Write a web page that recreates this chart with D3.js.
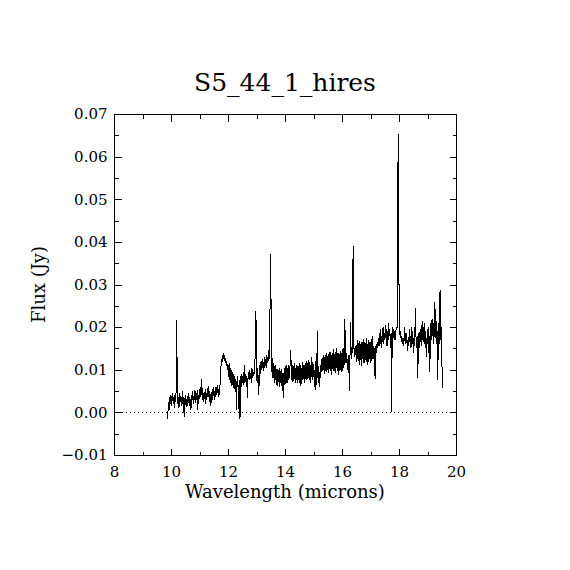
<!DOCTYPE html>
<html>
<head>
<meta charset="utf-8">
<script src="https://cdn.jsdelivr.net/npm/d3@7"></script>
<style>
  body { margin: 0; background: #fff; }
  text { font-family: "DejaVu Serif", serif; fill: #000; }
  .axis path, .axis line { stroke: #000; shape-rendering: crispEdges; }
</style>
</head>
<body>
<div id="chart"></div>
<script>
const title = "S5_44_1_hires";
const xLabel = "Wavelength (microns)";
const yLabel = "Flux (Jy)";
const xTicks = [8, 10, 12, 14, 16, 18, 20];
const xMinor = [9, 11, 13, 15, 17, 19];
const yTicks = [-0.01, 0, 0.01, 0.02, 0.03, 0.04, 0.05, 0.06, 0.07];
const yMinor = [-0.005, 0.005, 0.015, 0.025, 0.035, 0.045, 0.055, 0.065];

// wavelength (microns)
const wave = [
  9.88, 9.90, 9.92, 9.94, 9.96, 9.98, 10.00, 10.02, 10.04, 10.06, 10.08, 10.10, 10.12, 10.14, 10.16, 10.18,
  10.20, 10.22, 10.24, 10.26, 10.28, 10.30, 10.32, 10.34, 10.36, 10.38, 10.40, 10.42, 10.44, 10.46, 10.48,
  10.50, 10.52, 10.54, 10.56, 10.58, 10.60, 10.62, 10.64, 10.66, 10.68, 10.70, 10.72, 10.74, 10.76, 10.78,
  10.80, 10.82, 10.84, 10.86, 10.88, 10.90, 10.92, 10.94, 10.96, 10.98, 11.00, 11.02, 11.04, 11.06, 11.08,
  11.10, 11.12, 11.14, 11.16, 11.18, 11.20, 11.22, 11.24, 11.26, 11.28, 11.30, 11.32, 11.34, 11.36, 11.38,
  11.40, 11.42, 11.44, 11.46, 11.48, 11.50, 11.52, 11.54, 11.56, 11.58, 11.60, 11.62, 11.64, 11.66, 11.68,
  11.70, 11.72, 11.74, 11.76, 11.78, 11.80, 11.82, 11.84, 11.86, 11.88, 11.90, 11.92, 11.94, 11.96, 11.98,
  12.00, 12.02, 12.04, 12.06, 12.08, 12.10, 12.12, 12.14, 12.16, 12.18, 12.20, 12.22, 12.24, 12.26, 12.28,
  12.30, 12.32, 12.34, 12.36, 12.38, 12.40, 12.42, 12.44, 12.46, 12.48, 12.50, 12.52, 12.54, 12.56, 12.58,
  12.60, 12.62, 12.64, 12.66, 12.68, 12.70, 12.72, 12.74, 12.76, 12.78, 12.80, 12.82, 12.84, 12.86, 12.88,
  12.90, 12.92, 12.94, 12.96, 12.98, 13.00, 13.02, 13.04, 13.06, 13.08, 13.10, 13.12, 13.14, 13.16, 13.18,
  13.20, 13.22, 13.24, 13.26, 13.28, 13.30, 13.32, 13.34, 13.36, 13.38, 13.40, 13.42, 13.44, 13.46, 13.48,
  13.50, 13.52, 13.54, 13.56, 13.58, 13.60, 13.62, 13.64, 13.66, 13.68, 13.70, 13.72, 13.74, 13.76, 13.78,
  13.80, 13.82, 13.84, 13.86, 13.88, 13.90, 13.92, 13.94, 13.96, 13.98, 14.00, 14.02, 14.04, 14.06, 14.08,
  14.10, 14.12, 14.14, 14.16, 14.18, 14.20, 14.22, 14.24, 14.26, 14.28, 14.30, 14.32, 14.34, 14.36, 14.38,
  14.40, 14.42, 14.44, 14.46, 14.48, 14.50, 14.52, 14.54, 14.56, 14.58, 14.60, 14.62, 14.64, 14.66, 14.68,
  14.70, 14.72, 14.74, 14.76, 14.78, 14.80, 14.82, 14.84, 14.86, 14.88, 14.90, 14.92, 14.94, 14.96, 14.98,
  15.00, 15.02, 15.04, 15.06, 15.08, 15.10, 15.12, 15.14, 15.16, 15.18, 15.20, 15.22, 15.24, 15.26, 15.28,
  15.30, 15.32, 15.34, 15.36, 15.38, 15.40, 15.42, 15.44, 15.46, 15.48, 15.50, 15.52, 15.54, 15.56, 15.58,
  15.60, 15.62, 15.64, 15.66, 15.68, 15.70, 15.72, 15.74, 15.76, 15.78, 15.80, 15.82, 15.84, 15.86, 15.88,
  15.90, 15.92, 15.94, 15.96, 15.98, 16.00, 16.02, 16.04, 16.06, 16.08, 16.10, 16.12, 16.14, 16.16, 16.18,
  16.20, 16.22, 16.24, 16.26, 16.28, 16.30, 16.32, 16.34, 16.36, 16.38, 16.40, 16.42, 16.44, 16.46, 16.48,
  16.50, 16.52, 16.54, 16.56, 16.58, 16.60, 16.62, 16.64, 16.66, 16.68, 16.70, 16.72, 16.74, 16.76, 16.78,
  16.80, 16.82, 16.84, 16.86, 16.88, 16.90, 16.92, 16.94, 16.96, 16.98, 17.00, 17.02, 17.04, 17.06, 17.08,
  17.10, 17.12, 17.14, 17.16, 17.18, 17.20, 17.22, 17.24, 17.26, 17.28, 17.30, 17.32, 17.34, 17.36, 17.38,
  17.40, 17.42, 17.44, 17.46, 17.48, 17.50, 17.52, 17.54, 17.56, 17.58, 17.60, 17.62, 17.64, 17.66, 17.68,
  17.70, 17.72, 17.74, 17.76, 17.78, 17.80, 17.82, 17.84, 17.86, 17.88, 17.90, 17.92, 17.94, 17.96, 17.98,
  18.00, 18.02, 18.04, 18.06, 18.08, 18.10, 18.12, 18.14, 18.16, 18.18, 18.20, 18.22, 18.24, 18.26, 18.28,
  18.30, 18.32, 18.34, 18.36, 18.38, 18.40, 18.42, 18.44, 18.46, 18.48, 18.50, 18.52, 18.54, 18.56, 18.58,
  18.60, 18.62, 18.64, 18.66, 18.68, 18.70, 18.72, 18.74, 18.76, 18.78, 18.80, 18.82, 18.84, 18.86, 18.88,
  18.90, 18.92, 18.94, 18.96, 18.98, 19.00, 19.02, 19.04, 19.06, 19.08, 19.10, 19.12, 19.14, 19.16, 19.18,
  19.20, 19.22, 19.24, 19.26, 19.28, 19.30, 19.32, 19.34, 19.36, 19.38, 19.40, 19.42, 19.44, 19.46, 19.48,
  19.50, 19.52, 19.54
];

// flux (Jy), one value per wavelength above
const flux = [
  -0.0015, 0.0010, 0.0025, 0.0005, 0.0035, 0.0020, 0.0040, 0.0015, 0.0030, 0.0045, 0.0020, 0.0035, 0.0010, 0.0040, 0.0025, 0.0050,
  0.0217, 0.0060, 0.0020, 0.0035, 0.0010, 0.0045, 0.0025, 0.0038, 0.0015, 0.0030, 0.0049, 0.0020, 0.0035, -0.0010, 0.0025,
  0.0040, 0.0018, 0.0032, 0.0012, 0.0038, 0.0022, 0.0045, 0.0015, 0.0035, 0.0025, 0.0005, 0.0040, 0.0028, 0.0050, 0.0020,
  0.0038, 0.0030, 0.0053, 0.0022, 0.0045, 0.0030, 0.0052, 0.0006, 0.0040, 0.0028, 0.0055, 0.0035, 0.0060, 0.0040, 0.0078,
  0.0030, 0.0050, 0.0025, 0.0048, 0.0032, 0.0055, 0.0020, 0.0045, 0.0030, 0.0058, 0.0035, 0.0062, 0.0025, 0.0050, 0.0035,
  0.0015, 0.0048, 0.0030, 0.0055, 0.0038, 0.0060, 0.0028, 0.0050, 0.0035, 0.0060, 0.0040, 0.0065, 0.0045, 0.0055, 0.0035,
  0.0060, 0.0065, 0.0105, 0.0110, 0.0125, 0.0118, 0.0132, 0.0140, 0.0125, 0.0135, 0.0115, 0.0128, 0.0108, 0.0120, 0.0100,
  0.0112, 0.0082, 0.0115, 0.0076, 0.0105, 0.0068, 0.0100, 0.0062, 0.0094, 0.0058, 0.0090, 0.0055, 0.0085, 0.0048, 0.0078,
  0.0006, 0.0070, 0.0085, 0.0050, 0.0008, 0.0075, -0.0015, 0.0065, 0.0090, 0.0060, 0.0085, 0.0070, 0.0095, 0.0065, 0.0110,
  0.0075, 0.0090, 0.0060, 0.0085, 0.0034, 0.0080, 0.0095, 0.0075, 0.0100, 0.0078, 0.0092, 0.0070, 0.0105, 0.0080, 0.0095,
  0.0085, 0.0100, 0.0090, 0.0180, 0.0238, 0.0095, 0.0070, 0.0104, 0.0080, 0.0041, 0.0095, 0.0110, 0.0090, 0.0120, 0.0100,
  0.0125, 0.0105, 0.0118, 0.0098, 0.0130, 0.0110, 0.0125, 0.0105, 0.0135, 0.0115, 0.0130, 0.0120, 0.0147, 0.0125, 0.0290,
  0.0372, 0.0135, 0.0095, 0.0128, 0.0080, 0.0115, 0.0070, 0.0108, 0.0075, 0.0112, 0.0065, 0.0102, 0.0062, 0.0100, 0.0072,
  0.0105, 0.0060, 0.0098, 0.0068, 0.0102, 0.0050, 0.0092, 0.0034, 0.0088, 0.0105, 0.0065, 0.0108, 0.0070, 0.0112, 0.0068,
  0.0105, 0.0075, 0.0110, 0.0080, 0.0115, 0.0147, 0.0105, 0.0075, 0.0112, 0.0072, 0.0108, 0.0078, 0.0115, 0.0070, 0.0105,
  0.0075, 0.0110, 0.0068, 0.0108, 0.0075, 0.0115, 0.0070, 0.0110, 0.0062, 0.0105, 0.0075, 0.0118, 0.0078, 0.0112, 0.0068,
  0.0110, 0.0078, 0.0120, 0.0075, 0.0115, 0.0078, 0.0122, 0.0080, 0.0118, 0.0070, 0.0112, 0.0082, 0.0130, 0.0075, 0.0118,
  0.0083, 0.0095, 0.0060, 0.0120, 0.0053, 0.0140, 0.0065, 0.0190, 0.0070, 0.0108, 0.0060, 0.0095, 0.0080, 0.0110, 0.0095,
  0.0128, 0.0098, 0.0135, 0.0100, 0.0130, 0.0090, 0.0134, 0.0095, 0.0140, 0.0100, 0.0132, 0.0092, 0.0138, 0.0102, 0.0142,
  0.0098, 0.0134, 0.0088, 0.0140, 0.0102, 0.0148, 0.0096, 0.0138, 0.0092, 0.0142, 0.0104, 0.0150, 0.0098, 0.0140, 0.0088,
  0.0138, 0.0096, 0.0145, 0.0100, 0.0140, 0.0095, 0.0148, 0.0105, 0.0152, 0.0112, 0.0220, 0.0130, 0.0115, 0.0140, 0.0120,
  0.0100, 0.0135, 0.0110, 0.0049, 0.0130, 0.0213, 0.0140, 0.0125, 0.0150, 0.0346, 0.0391, 0.0150, 0.0130, 0.0155, 0.0135,
  0.0158, 0.0118, 0.0170, 0.0125, 0.0162, 0.0112, 0.0168, 0.0122, 0.0160, 0.0108, 0.0165, 0.0125, 0.0172, 0.0115, 0.0165,
  0.0115, 0.0162, 0.0122, 0.0175, 0.0110, 0.0160, 0.0118, 0.0170, 0.0125, 0.0165, 0.0115, 0.0172, 0.0120, 0.0180, 0.0125,
  0.0155, 0.0125, 0.0150, 0.0079, 0.0145, 0.0160, 0.0140, 0.0165, 0.0150, 0.0175, 0.0155, 0.0185, 0.0160, 0.0195, 0.0150,
  0.0180, 0.0165, 0.0200, 0.0160, 0.0185, 0.0170, 0.0205, 0.0175, 0.0195, 0.0155, 0.0190, 0.0170, 0.0210, 0.0180, 0.0195,
  0.0150, 0.0185, 0.0000, 0.0170, 0.0200, 0.0175, 0.0195, 0.0180, 0.0170, 0.0185, 0.0195, 0.0200, 0.0200, 0.0565, 0.0654,
  0.0300, 0.0200, 0.0175, 0.0190, 0.0165, 0.0180, 0.0160, 0.0175, 0.0155, 0.0170, 0.0200, 0.0175, 0.0160, 0.0185, 0.0165,
  0.0145, 0.0175, 0.0155, 0.0195, 0.0165, 0.0180, 0.0150, 0.0200, 0.0170, 0.0190, 0.0140, 0.0175, 0.0155, 0.0195, 0.0245,
  0.0165, 0.0150, 0.0180, 0.0080, 0.0170, 0.0185, 0.0150, 0.0195, 0.0165, 0.0205, 0.0155, 0.0215, 0.0170, 0.0200, 0.0160,
  0.0210, 0.0150, 0.0190, 0.0130, 0.0175, 0.0160, 0.0200, 0.0140, 0.0180, 0.0095, 0.0165, 0.0210, 0.0170, 0.0220, 0.0180,
  0.0210, 0.0160, 0.0200, 0.0260, 0.0175, 0.0215, 0.0160, 0.0190, 0.0077, 0.0180, 0.0210, 0.0160, 0.0288, 0.0170, 0.0200,
  0.0120, 0.0090, 0.0058
];

const W = 570, H = 570;
const plot = { left: 114, right: 456, top: 114, bottom: 455 };

const svg = d3.select("#chart").append("svg")
    .attr("width", W)
    .attr("height", H);

const x = d3.scaleLinear().domain([8, 20]).range([plot.left, plot.right]);
const y = d3.scaleLinear().domain([-0.01, 0.07]).range([plot.bottom, plot.top]);

const fmtY = d3.format(".2f");

// frame
svg.append("rect")
    .attr("x", plot.left + 0.5)
    .attr("y", plot.top + 0.5)
    .attr("width", plot.right - plot.left)
    .attr("height", plot.bottom - plot.top)
    .attr("fill", "none")
    .attr("stroke", "#000")
    .attr("shape-rendering", "crispEdges");

// ticks pointing inward on all four sides
function addAxis(axis, tx, ty, labels) {
    const g = svg.append("g")
        .attr("class", "axis")
        .attr("transform", `translate(${tx},${ty})`)
        .call(axis);
    g.select(".domain").remove();
    if (!labels) g.selectAll("text").remove();
    return g;
}

const major = 7, minor = 4;

const bottom = addAxis(d3.axisBottom(x).tickValues(xTicks).tickSize(-major).tickSizeOuter(0).tickPadding(11).tickFormat(d3.format("d")), 0, plot.bottom + 0.5, true);
bottom.selectAll("text").attr("font-size", 15).attr("dy", "0.71em");
addAxis(d3.axisBottom(x).tickValues(xMinor).tickSize(-minor).tickSizeOuter(0), 0, plot.bottom + 0.5, false);
addAxis(d3.axisTop(x).tickValues(xTicks).tickSize(-major).tickSizeOuter(0), 0, plot.top + 0.5, false);
addAxis(d3.axisTop(x).tickValues(xMinor).tickSize(-minor).tickSizeOuter(0), 0, plot.top + 0.5, false);

const left = addAxis(d3.axisLeft(y).tickValues(yTicks).tickSize(-major).tickSizeOuter(0).tickPadding(7).tickFormat(fmtY), plot.left + 0.5, 0, true);
left.selectAll("text").attr("font-size", 15);
addAxis(d3.axisLeft(y).tickValues(yMinor).tickSize(-minor).tickSizeOuter(0), plot.left + 0.5, 0, false);
addAxis(d3.axisRight(y).tickValues(yTicks).tickSize(-major).tickSizeOuter(0), plot.right + 0.5, 0, false);
addAxis(d3.axisRight(y).tickValues(yMinor).tickSize(-minor).tickSizeOuter(0), plot.right + 0.5, 0, false);

// zero line
svg.append("line")
    .attr("x1", plot.left).attr("x2", plot.right)
    .attr("y1", Math.round(y(0)) + 0.5).attr("y2", Math.round(y(0)) + 0.5)
    .attr("stroke", "#000")
    .attr("stroke-dasharray", "1,3");

// spectrum
const line = d3.line()
    .x((d, i) => x(wave[i]))
    .y(d => y(d));

svg.append("path")
    .datum(flux)
    .attr("d", line)
    .attr("fill", "none")
    .attr("stroke", "#000")
    .attr("stroke-width", 1)
    .attr("shape-rendering", "crispEdges");

// labels
svg.append("text")
    .attr("x", (plot.left + plot.right) / 2)
    .attr("y", 91)
    .attr("text-anchor", "middle")
    .attr("font-size", 25)
    .text(title);

svg.append("text")
    .attr("x", (plot.left + plot.right) / 2)
    .attr("y", 498)
    .attr("text-anchor", "middle")
    .attr("font-size", 18)
    .text(xLabel);

svg.append("text")
    .attr("transform", `translate(45,${(plot.top + plot.bottom) / 2}) rotate(-90)`)
    .attr("text-anchor", "middle")
    .attr("font-size", 18)
    .text(yLabel);
</script>
</body>
</html>
